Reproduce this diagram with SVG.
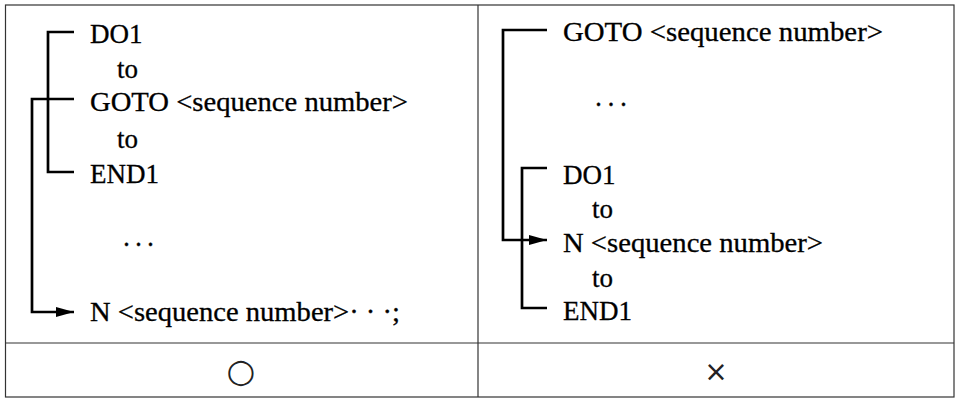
<svg xmlns="http://www.w3.org/2000/svg" width="960" height="399" viewBox="0 0 960 399">
<style>
.t{font-family:"Liberation Serif","Times New Roman",serif;font-size:27px;fill:#000;stroke:#000;stroke-width:0.3}
.sym{font-family:"DejaVu Sans",sans-serif;fill:#222}
.grid{fill:none;stroke:#333;stroke-width:1.2}
.br{fill:none;stroke:#000;stroke-width:2.7}
</style>
<defs>
<marker id="ah" markerUnits="userSpaceOnUse" markerWidth="19" markerHeight="11" refX="18" refY="5.5" orient="auto">
<path d="M0,0.5 L18,5.5 L0,10.5 Z" fill="#000"/>
</marker>
</defs>
<rect width="960" height="399" fill="#fff"/>
<g id="table">
<rect class="grid" x="5.5" y="5" width="948.5" height="392"/>
<line class="grid" x1="478" y1="5" x2="478" y2="397"/>
<line class="grid" x1="5.5" y1="343" x2="954" y2="343"/>
</g>
<g id="connectors">
<path class="br" d="M74,32 H48 V172 H74"/>
<path class="br" d="M74,99 H32 V312 H74" marker-end="url(#ah)"/>
<path class="br" d="M547,30 H503 V240 H547" marker-end="url(#ah)"/>
<path class="br" d="M547,168 H522 V308 H547"/>
</g>
<g id="left-do1"><text class="t" x="90" y="43">DO1</text></g>
<g id="left-to1"><text class="t" x="117" y="78">to</text></g>
<g id="left-goto"><text class="t" x="90" y="111" textLength="318" lengthAdjust="spacingAndGlyphs">GOTO &lt;sequence number&gt;</text></g>
<g id="left-to2"><text class="t" x="117" y="148">to</text></g>
<g id="left-end1"><text class="t" x="90" y="183">END1</text></g>
<g id="left-dots"><text class="t" x="122" y="254" textLength="33">· · ·</text></g>
<g id="left-n"><text class="t" x="90" y="321" textLength="310" lengthAdjust="spacingAndGlyphs">N &lt;sequence number&gt;· · ·;</text></g>
<g id="right-goto"><text class="t" x="563" y="41" textLength="320" lengthAdjust="spacingAndGlyphs">GOTO &lt;sequence number&gt;</text></g>
<g id="right-dots"><text class="t" x="594" y="114" textLength="34">· · ·</text></g>
<g id="right-do1"><text class="t" x="563" y="184">DO1</text></g>
<g id="right-to1"><text class="t" x="592" y="218">to</text></g>
<g id="right-n"><text class="t" x="563" y="252" textLength="260" lengthAdjust="spacingAndGlyphs">N &lt;sequence number&gt;</text></g>
<g id="right-to2"><text class="t" x="592" y="287">to</text></g>
<g id="right-end1"><text class="t" x="563" y="320">END1</text></g>
<g id="ok"><text class="sym" x="241" y="382" font-size="33" text-anchor="middle">○</text></g>
<g id="ng"><text class="sym" x="716" y="381" font-size="28" text-anchor="middle">×</text></g>
</svg>
